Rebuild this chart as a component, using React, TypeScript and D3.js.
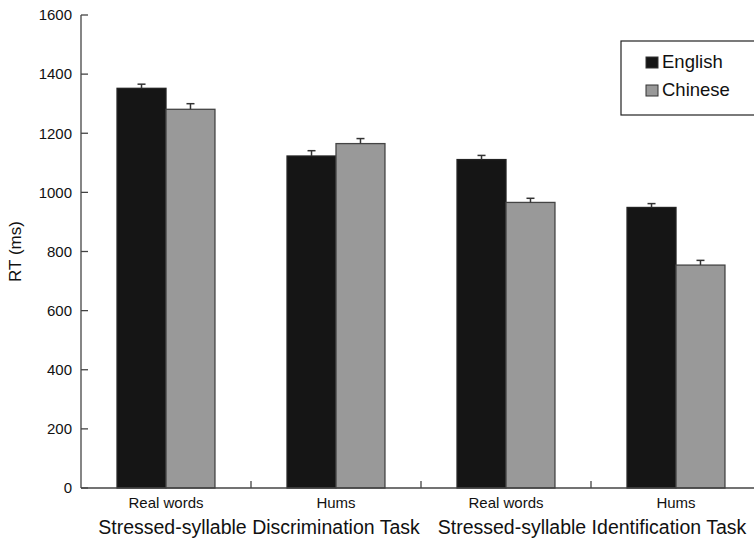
import { useEffect } from 'react';
import * as d3 from 'd3';

const categories = ['Real words', 'Hums', 'Real words', 'Hums'];
const tasks = ['Stressed-syllable Discrimination Task', 'Stressed-syllable Identification Task'];
const series = ['English', 'Chinese'];
const englishRT = [1352, 1123, 1111, 949];
const chineseRT = [1281, 1165, 966, 754];
const englishErr = [14, 18, 14, 13];
const chineseErr = [19, 17, 14, 16];
const yTicks = [0, 200, 400, 600, 800, 1000, 1200, 1400, 1600];

const colors = ['#151515', '#999999'];
const W = 754;
const H = 543;
const FONT = '"Liberation Sans", Arial, sans-serif';

const App = () => {
  useEffect(() => {
    document.body.style.margin = '0';
  }, []);

  const left = 81;
  const right = 761;
  const top = 15;
  const bottom = 488;

  const idx = categories.map((_, i) => i);
  const x0 = d3.scaleBand<number>().domain(idx).range([left, right]).paddingInner(0.424).paddingOuter(0.212);
  const x1 = d3.scaleBand<string>().domain(series).range([0, x0.bandwidth()]);
  const y = d3.scaleLinear().domain([0, 1600]).range([bottom, top]);

  const values = [englishRT, chineseRT];
  const errs = [englishErr, chineseErr];
  const step = x0.step();
  const boundaries = idx.slice(1).map(i => x0(i)! + x0.bandwidth() / 2 - step / 2);
  const taskCenters = [259, 592];

  return (
    <svg width={W} height={H} style={{ display: 'block', fontFamily: FONT }}>
      {/* bars */}
      {idx.map(i =>
        series.map((s, si) => {
          const bx = x0(i)! + x1(s)!;
          const v = values[si][i];
          return (
            <g key={`${i}-${s}`}>
              <rect
                x={bx}
                y={y(v)}
                width={x1.bandwidth()}
                height={bottom - y(v)}
                fill={colors[si]}
                stroke={si === 0 ? '#222' : '#444'}
                strokeWidth={1.3}
              />
              <line
                x1={bx + x1.bandwidth() / 2}
                x2={bx + x1.bandwidth() / 2}
                y1={y(v)}
                y2={y(v + errs[si][i])}
                stroke="#333"
                strokeWidth={1.5}
              />
              <line
                x1={bx + x1.bandwidth() / 2 - 4}
                x2={bx + x1.bandwidth() / 2 + 4}
                y1={y(v + errs[si][i])}
                y2={y(v + errs[si][i])}
                stroke="#333"
                strokeWidth={1.5}
              />
            </g>
          );
        })
      )}

      {/* y axis */}
      <line x1={left} x2={left} y1={top} y2={bottom} stroke="#444" strokeWidth={1.3} />
      {yTicks.map(t => (
        <g key={t}>
          <line x1={left} x2={left + 7} y1={y(t)} y2={y(t)} stroke="#444" strokeWidth={1.3} />
          <text x={72} y={y(t)} dy="0.35em" textAnchor="end" fontSize={15} fill="#111">
            {t}
          </text>
        </g>
      ))}
      <text
        transform={`translate(21,${(top + bottom) / 2}) rotate(-90)`}
        textAnchor="middle"
        fontSize={17}
        fill="#111"
      >
        RT (ms)
      </text>

      {/* x axis */}
      <line x1={left} x2={right} y1={bottom} y2={bottom} stroke="#444" strokeWidth={1.3} />
      {boundaries.map((b, i) => (
        <line key={i} x1={b} x2={b} y1={bottom} y2={bottom - 7} stroke="#444" strokeWidth={1.3} />
      ))}
      {idx.map(i => (
        <text
          key={i}
          x={x0(i)! + x0.bandwidth() / 2}
          y={508}
          textAnchor="middle"
          fontSize={15}
          fill="#111"
        >
          {categories[i]}
        </text>
      ))}
      {tasks.map((t, i) => (
        <text key={t} x={taskCenters[i]} y={534} textAnchor="middle" fontSize={19.5} fill="#111">
          {t}
        </text>
      ))}

      {/* legend */}
      <rect x={621} y={41} width={140} height={74} fill="#fff" stroke="#222" strokeWidth={1.2} />
      {series.map((s, si) => (
        <g key={s}>
          <rect x={646} y={57 + si * 28} width={12} height={11} fill={colors[si]} stroke="#333" strokeWidth={1} />
          <text x={662} y={68 + si * 28} fontSize={18.5} fill="#111">
            {s}
          </text>
        </g>
      ))}
    </svg>
  );
};

export default App;
